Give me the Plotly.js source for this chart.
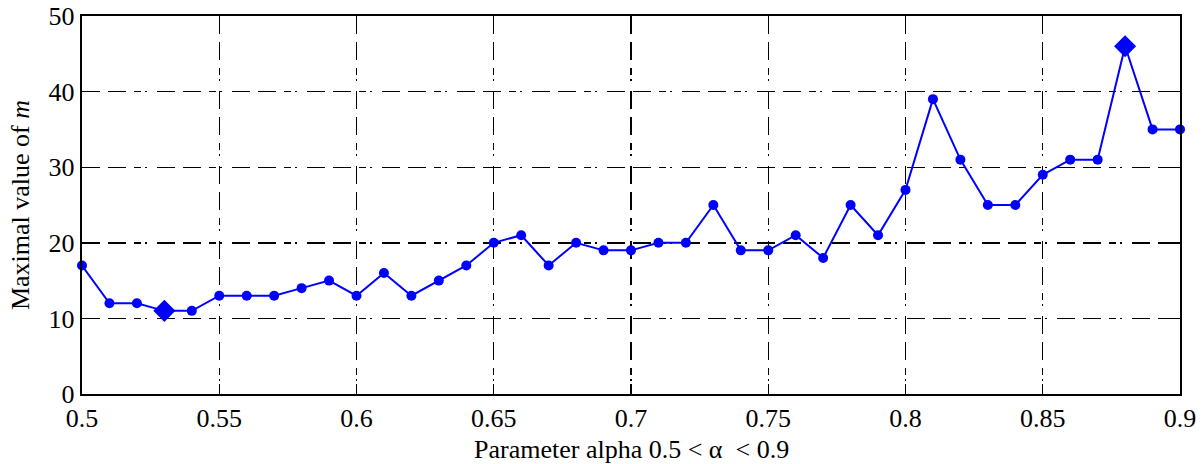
<!DOCTYPE html>
<html><head><meta charset="utf-8">
<script src="https://cdn.plot.ly/plotly-3.0.1.min.js"></script>
<style>html,body{margin:0;padding:0;background:#fff}#chart{width:1202px;height:464px}</style>
</head><body><div id="chart"></div>
<script>
const alphaValues = [0.5,0.51,0.52,0.53,0.54,0.55,0.56,0.57,0.58,0.59,0.6,0.61,0.62,0.63,0.64,0.65,0.66,0.67,0.68,0.69,0.7,0.71,0.72,0.73,0.74,0.75,0.76,0.77,0.78,0.79,0.8,0.81,0.82,0.83,0.84,0.85,0.86,0.87,0.88,0.89,0.9];
const maxM = [17,12,12,11,11,13,13,13,14,15,13,16,13,15,17,20,21,17,20,19,19,20,20,25,19,19,21,18,25,21,27,39,31,25,25,29,31,31,46,35,35];
const minAlpha = [0.53];
const minM = [11];
const maxAlpha = [0.88];
const maxMv = [46];
const xTicks = [0.5,0.55,0.6,0.65,0.7,0.75,0.8,0.85,0.9];
const xTickLabels = ['0.5','0.55','0.6','0.65','0.7','0.75','0.8','0.85','0.9'];
const yTicks = [0,10,20,30,40,50];
const xTitle = 'Parameter alpha 0.5 &lt; α &#160;&lt; 0.9';
const yTitle = 'Maximal value of <i>m</i>';

const blue = '#0000ff';
const traces = [
  {x: alphaValues, y: maxM, mode: 'lines+markers', line: {color: blue, width: 2}, marker: {color: blue, size: 10, symbol: 'circle'}, showlegend: false, cliponaxis: false},
  {x: minAlpha, y: minM, mode: 'markers', marker: {color: blue, size: 17, symbol: 'diamond'}, showlegend: false, cliponaxis: false},
  {x: maxAlpha, y: maxMv, mode: 'markers', marker: {color: blue, size: 17, symbol: 'diamond'}, showlegend: false, cliponaxis: false}
];
const gridDash = '18px,8px,18px,8px,7px,4px,2px,10px';
const font = {family: 'Liberation Serif', size: 26, color: '#000'};
const layout = {
  width: 1202, height: 464,
  margin: {l: 82, r: 22, t: 16, b: 70},
  paper_bgcolor: '#fff', plot_bgcolor: '#fff',
  font: font,
  xaxis: {
    range: [0.5, 0.9], tickvals: xTicks, ticktext: xTickLabels,
    showgrid: true, gridcolor: '#000', gridwidth: 1.4, griddash: gridDash,
    showline: true, linecolor: '#000', linewidth: 2.2, mirror: 'ticks',
    ticks: 'inside', ticklen: 10, tickwidth: 1.4, tickcolor: '#000',
    zeroline: false, tickfont: font, ticklabelstandoff: 0, automargin: false
  },
  yaxis: {
    range: [0, 50], tickvals: yTicks,
    showgrid: true, gridcolor: '#000', gridwidth: 1.4, griddash: gridDash,
    showline: true, linecolor: '#000', linewidth: 2.2, mirror: 'ticks',
    ticks: 'inside', ticklen: 10, tickwidth: 1.4, tickcolor: '#000',
    zeroline: false, tickfont: font, automargin: false,
    title: {text: yTitle, font: font, standoff: 12}
  },
  annotations: [
    {text: xTitle, xref: 'paper', yref: 'paper', x: 0.5, y: 0, xanchor: 'center', yanchor: 'top', yshift: -39, showarrow: false, font: font}
  ]
};
Plotly.newPlot('chart', traces, layout, {displayModeBar: false, staticPlot: true});
</script></body></html>
